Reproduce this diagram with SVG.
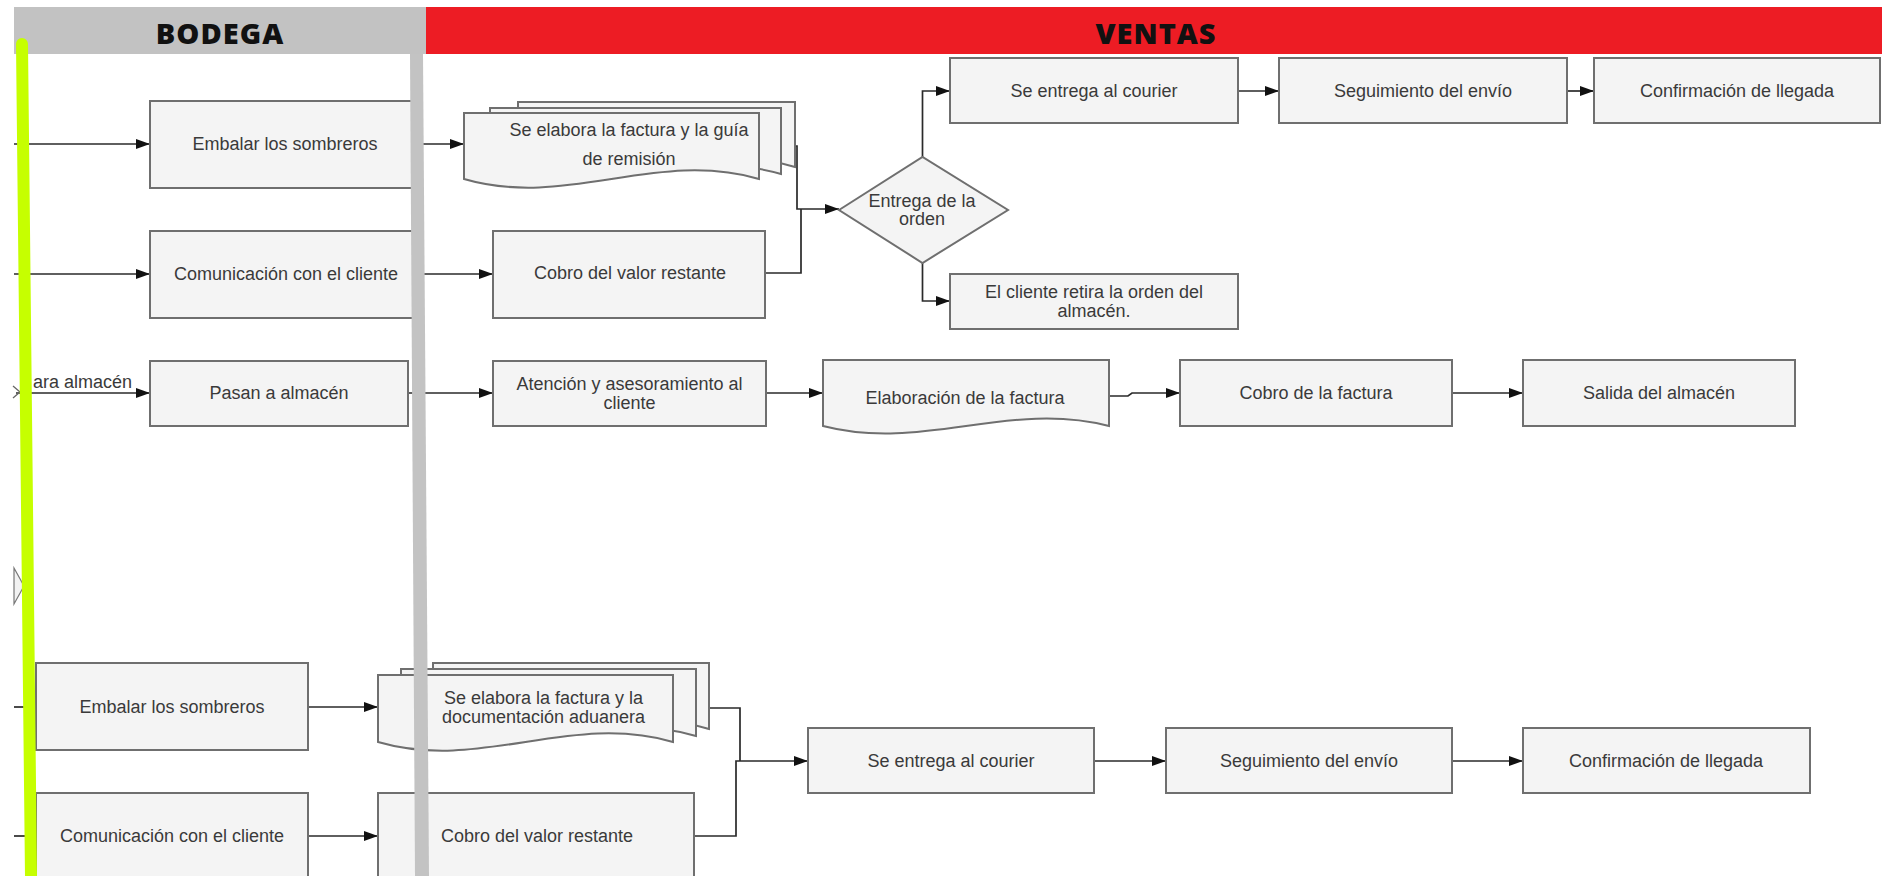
<svg xmlns="http://www.w3.org/2000/svg" width="1882" height="876" viewBox="0 0 1882 876">
<style>
.box{fill:#f4f4f4;stroke:#6f6f6f;stroke-width:2}
.t{font-family:"Liberation Sans",Arial,sans-serif;font-size:18px;fill:#3a3a3a;text-anchor:middle}
.ts{font-family:"Liberation Sans",Arial,sans-serif;font-size:18px;fill:#3a3a3a}
.hd{font-family:"Open Sans","DejaVu Sans",sans-serif;font-size:29px;font-weight:800;fill:#111;text-anchor:middle;letter-spacing:1px}
.c{fill:none;stroke:#2a2a2a;stroke-width:1.7}
.ca{fill:none;stroke:#2a2a2a;stroke-width:1.7;marker-end:url(#ah)}
.frag{fill:none;stroke:#666;stroke-width:1.3}
</style>
<defs>
<marker id="ah" markerUnits="userSpaceOnUse" markerWidth="16" markerHeight="12" refX="14" refY="5" orient="auto">
<path d="M0,0 L14,5 L0,10 Z" fill="#111"/>
</marker>
</defs>
<rect width="1882" height="876" fill="#fff"/>
<g id="header">
<rect x="14" y="7" width="412" height="47" fill="#c2c2c2"/>
<rect x="426" y="7" width="1456" height="47" fill="#ed1c24"/>
<text class="hd" x="220" y="44">BODEGA</text>
<text class="hd" x="1156" y="44">VENTAS</text>
</g>
<g id="connectors">
<line class="ca" x1="14" y1="144" x2="150" y2="144"/>
<line class="ca" x1="412" y1="144" x2="464" y2="144"/>
<line class="ca" x1="14" y1="274" x2="150" y2="274"/>
<line class="ca" x1="412" y1="274" x2="493" y2="274"/>
<polyline class="ca" points="794,146 797,146 797,209 839,209"/>
<polyline class="c" points="765,273 801,273 801,209"/>
<polyline class="ca" points="922.5,157 922.5,91 950,91"/>
<polyline class="ca" points="922.5,263 922.5,301 950,301"/>
<line class="ca" x1="1238" y1="91" x2="1279" y2="91"/>
<line class="ca" x1="1567" y1="91" x2="1594" y2="91"/>
<line class="ca" x1="16" y1="393" x2="150" y2="393"/>
<line class="ca" x1="408" y1="393" x2="493" y2="393"/>
<line class="ca" x1="766" y1="393" x2="823" y2="393"/>
<polyline class="ca" points="1109,396 1128,396 1132,393 1180,393"/>
<line class="ca" x1="1452" y1="393" x2="1523" y2="393"/>
<line class="c" x1="14" y1="707" x2="26" y2="707"/>
<line class="c" x1="14" y1="836" x2="26" y2="836"/>
<line class="ca" x1="308" y1="707" x2="378" y2="707"/>
<line class="ca" x1="308" y1="836" x2="378" y2="836"/>
<polyline class="c" points="709,708 740,708 740,761"/>
<polyline class="ca" points="694,836 736,836 736,761 808,761"/>
<line class="ca" x1="1094" y1="761" x2="1166" y2="761"/>
<line class="ca" x1="1452" y1="761" x2="1523" y2="761"/>
</g>
<g id="fragments">
<polyline class="frag" points="13,386 20,392 13,398"/>
<polygon points="14,568 24,586 14,604" fill="#f2f2f2" stroke="#777" stroke-width="1.2"/>
</g>
<g id="n1"><rect class="box" x="150" y="101" width="272" height="87"/><text class="t" x="285" y="150">Embalar los sombreros</text></g>
<g id="n2"><path class="box" d="M518,102 H795 V167 C698,137 615,197 518,167 Z"/><path class="box" d="M490,108 H781 V174 C679,144 592,204 490,174 Z"/><path class="box" d="M464,113 H759 V179 C656,149 567,209 464,179 Z"/><text class="t" x="629" y="136">Se elabora la factura y la guía</text><text class="t" x="629" y="165">de remisión</text></g>
<g id="n3"><rect class="box" x="150" y="231" width="272" height="87"/><text class="t" x="286" y="280">Comunicación con el cliente</text></g>
<g id="n4"><rect class="box" x="493" y="231" width="272" height="87"/><text class="t" x="630" y="279">Cobro del valor restante</text></g>
<g id="n5"><polygon class="box" points="839,210 922.5,157 1008,210 922.5,263"/><text class="t" x="922" y="207">Entrega de la</text><text class="t" x="922" y="225">orden</text></g>
<g id="n6"><rect class="box" x="950" y="58" width="288" height="65"/><text class="t" x="1094" y="97">Se entrega al courier</text></g>
<g id="n7"><rect class="box" x="1279" y="58" width="288" height="65"/><text class="t" x="1423" y="97">Seguimiento del envío</text></g>
<g id="n8"><rect class="box" x="1594" y="58" width="286" height="65"/><text class="t" x="1737" y="97">Confirmación de llegada</text></g>
<g id="n9"><rect class="box" x="950" y="274" width="288" height="55"/><text class="t" x="1094" y="298">El cliente retira la orden del</text><text class="t" x="1094" y="317">almacén.</text></g>
<g id="n10"><text class="ts" x="33" y="388">ara almacén</text></g>
<g id="n11"><rect class="box" x="150" y="361" width="258" height="65"/><text class="t" x="279" y="399">Pasan a almacén</text></g>
<g id="n12"><rect class="box" x="493" y="361" width="273" height="65"/><text class="t" x="629.5" y="390">Atención y asesoramiento al</text><text class="t" x="629.5" y="409">cliente</text></g>
<g id="n13"><path class="box" d="M823,360 H1109 V426 C1009,400 923,452 823,426 Z"/><text class="t" x="965" y="404">Elaboración de la factura</text></g>
<g id="n14"><rect class="box" x="1180" y="360" width="272" height="66"/><text class="t" x="1316" y="399">Cobro de la factura</text></g>
<g id="n15"><rect class="box" x="1523" y="360" width="272" height="66"/><text class="t" x="1659" y="399">Salida del almacén</text></g>
<g id="n16"><rect class="box" x="36" y="663" width="272" height="87"/><text class="t" x="172" y="713">Embalar los sombreros</text></g>
<g id="n17"><rect class="box" x="36" y="793" width="272" height="100"/><text class="t" x="172" y="842">Comunicación con el cliente</text></g>
<g id="n18"><path class="box" d="M433,663 H709 V729 C612,699 530,759 433,729 Z"/><path class="box" d="M401,669 H696 V736 C593,706 504,766 401,736 Z"/><path class="box" d="M378,675 H673 V742 C570,712 481,772 378,742 Z"/><text class="t" x="543.5" y="704">Se elabora la factura y la</text><text class="t" x="543.5" y="723">documentación aduanera</text></g>
<g id="n19"><rect class="box" x="378" y="793" width="316" height="100"/><text class="t" x="537" y="842">Cobro del valor restante</text></g>
<g id="n20"><rect class="box" x="808" y="728" width="286" height="65"/><text class="t" x="951" y="767">Se entrega al courier</text></g>
<g id="n21"><rect class="box" x="1166" y="728" width="286" height="65"/><text class="t" x="1309" y="767">Seguimiento del envío</text></g>
<g id="n22"><rect class="box" x="1523" y="728" width="287" height="65"/><text class="t" x="1666" y="767">Confirmación de llegada</text></g>
<g id="dividers">
<polygon points="410,54 423,54 429,876 415,876" fill="#c3c3c3"/>
<line x1="22" y1="44" x2="31" y2="876" stroke="#c6ff00" stroke-width="12" stroke-linecap="round"/>
</g>
</svg>
